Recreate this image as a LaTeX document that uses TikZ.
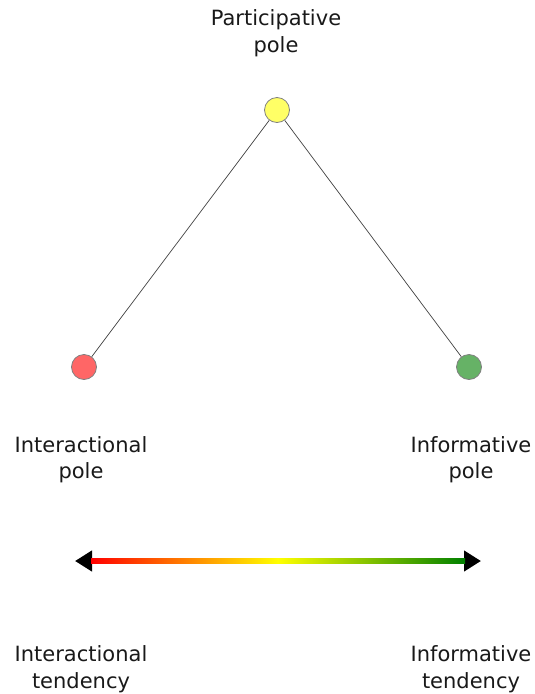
\documentclass[tikz,border=0pt]{standalone}
\usepackage{fontspec}
\setmainfont{DejaVu Sans}
\usepackage{tikz}
\usepackage{xcolor}
\usetikzlibrary{positioning, arrows.meta, calc}
\definecolor{poleyellow}{RGB}{255, 255, 102}
\definecolor{polered}{RGB}{255, 102, 102}
\definecolor{polegreen}{RGB}{102, 178, 102}
\definecolor{polegray}{RGB}{128, 128, 128}
\definecolor{tendred}{RGB}{255, 0, 0}
\definecolor{tendyellow}{RGB}{255, 255, 0}
\definecolor{tendgreen}{RGB}{0, 128, 0}
\tikzset{
    polenode/.style={circle, draw=polegray, line width=0.8pt, minimum size=25pt, inner sep=0pt},
    yellownode/.style={polenode, fill=poleyellow},
    rednode/.style={polenode, fill=polered},
    greennode/.style={polenode, fill=polegreen},
    polelabel/.style={align=center, inner sep=0pt, text=black!90, font=\fontsize{21}{26.5}\selectfont},
    spoke/.style={draw=black!75, line width=0.7pt}
}

\begin{document}
\begin{tikzpicture}[x=1pt, y=-1pt]
    \useasboundingbox (0,0) rectangle (535,694);
    % triangle of poles
    \node[yellownode] (part) at (277,110) {};
    \node[rednode] (inter) at (84,367) {};
    \node[greennode] (info) at (469,367) {};
    \draw[spoke] (part) -- (inter);
    \draw[spoke] (part) -- (info);
    \node[polelabel] (partlbl) at (276,33) {Participative\\pole};
    \node[polelabel] (interlbl) at (81,459.5) {Interactional\\pole};
    \node[polelabel] (infolbl) at (471,459.5) {Informative\\pole};
    % tendency arrow
    \coordinate (tl) at (75,561);
    \coordinate (tr) at (481,561);
    \draw[line width=4.5pt, {Triangle[length=17pt,width=20pt]}-{Triangle[length=17pt,width=20pt]}] (tl) -- (tr);
    \shade[left color=tendred, right color=tendgreen, middle color=tendyellow]
        ($(tl)+(16,-2.3)$) rectangle ($(tr)+(-16,2.3)$);
    \node[polelabel] (intertend) at (81,669.3) {Interactional\\tendency};
    \node[polelabel] (infotend) at (471,669.3) {Informative\\tendency};
\end{tikzpicture}
\end{document}
